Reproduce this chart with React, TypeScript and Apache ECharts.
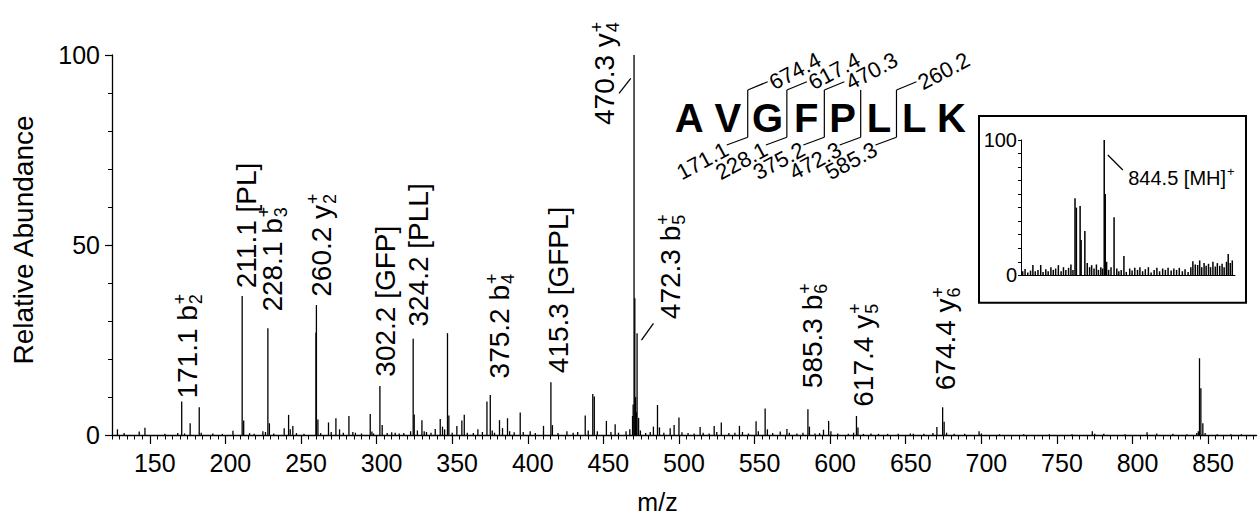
import React, { useEffect, useRef } from "react";
import * as echarts from "echarts";

const FONT = '"Liberation Sans", Arial, Helvetica, sans-serif';

// ---------- main MS/MS spectrum: [m/z, relative abundance] ----------
const peaks: [number, number][] = [
  [128.6, 1.5], [133.0, 0.5], [143.0, 0.9], [146.8, 1.9], [160.0, 0.3], [168.5, 0.5],
  [171.1, 8.8], [173.0, 0.4], [176.7, 3.1], [182.7, 7.3], [184.0, 0.6], [191.7, 0.4],
  [198.0, 0.3], [205.0, 1.1], [211.1, 36.6], [212.1, 3.8], [216.0, 0.5], [219.0, 0.3],
  [224.8, 1.0], [226.5, 0.8], [228.1, 28.1], [229.1, 3.1], [232.0, 0.4], [238.9, 1.8],
  [241.8, 5.3], [242.9, 1.5], [244.6, 2.4], [247.0, 0.5], [252.0, 0.3], [259.9, 27.0],
  [260.2, 34.2], [261.2, 4.1], [263.0, 0.5], [268.2, 3.3], [270.0, 0.8], [273.1, 4.4],
  [275.5, 1.5], [278.0, 0.6], [281.7, 5.0], [284.3, 0.8], [286.0, 0.6], [290.0, 0.4],
  [295.8, 5.5], [296.9, 0.9], [298.0, 0.4], [302.2, 12.9], [303.7, 2.6], [307.0, 0.5],
  [310.0, 0.7], [312.3, 0.6], [315.0, 0.4], [318.0, 0.5], [322.5, 1.0], [324.2, 25.3],
  [324.9, 5.4], [327.0, 1.2], [330.0, 3.9], [331.5, 1.0], [333.0, 0.8], [336.0, 0.6],
  [338.8, 1.6], [342.1, 4.2], [343.6, 2.2], [345.0, 1.5], [346.9, 26.8], [347.8, 5.1],
  [350.0, 0.6], [353.1, 2.4], [356.4, 3.8], [358.0, 5.3], [360.0, 0.6], [364.0, 0.5],
  [367.0, 1.5], [370.0, 0.8], [373.0, 8.8], [375.2, 10.5], [376.5, 1.2], [378.0, 0.6],
  [381.3, 3.9], [383.3, 1.8], [386.6, 4.4], [388.0, 1.0], [391.0, 0.7], [395.0, 5.9],
  [397.0, 0.8], [401.6, 1.0], [405.0, 0.5], [410.4, 2.4], [415.3, 13.9], [416.3, 2.6],
  [420.0, 0.5], [425.9, 1.0], [430.0, 0.6], [433.0, 0.8], [438.0, 5.1], [440.0, 1.2],
  [443.0, 10.8], [444.0, 10.1], [446.0, 1.0], [452.0, 3.7], [455.0, 0.8], [457.8, 2.8],
  [460.0, 0.6], [465.0, 1.0], [467.5, 1.5], [469.3, 5.0], [469.7, 8.0], [470.3, 100],
  [470.8, 36.0], [471.3, 10.0], [471.8, 6.0], [472.3, 26.8], [473.3, 4.5], [474.5, 1.2],
  [478.0, 0.5], [481.0, 0.8], [483.1, 2.2], [485.8, 7.9], [487.1, 2.0], [490.0, 0.6],
  [494.2, 1.8], [496.8, 2.6], [500.0, 4.6], [502.0, 0.7], [506.0, 0.5], [510.0, 0.4],
  [514.0, 2.1], [516.0, 0.6], [520.0, 0.4], [523.3, 2.4], [525.0, 0.8], [528.0, 3.3],
  [533.0, 0.5], [537.0, 0.6], [540.0, 2.4], [542.0, 0.8], [546.0, 0.4], [551.0, 3.6],
  [552.5, 1.0], [557.0, 7.0], [558.5, 1.5], [562.0, 0.5], [567.0, 0.9], [571.4, 1.6],
  [573.0, 0.6], [578.0, 0.4], [582.0, 0.6], [585.3, 6.8], [586.3, 2.2], [590.0, 0.4],
  [593.0, 0.5], [595.6, 1.4], [599.0, 3.7], [600.5, 1.0], [605.0, 0.4], [612.0, 0.3],
  [615.5, 0.6], [617.4, 5.0], [618.4, 2.0], [622.0, 0.3], [627.0, 0.4], [632.0, 0.3],
  [638.0, 0.3], [645.0, 0.3], [653.0, 0.4], [655.0, 0.3], [662.0, 0.3], [668.0, 0.5],
  [670.6, 2.1], [674.4, 7.3], [675.4, 3.5], [677.0, 0.6], [682.0, 0.3], [689.0, 0.3],
  [698.5, 1.0], [700.0, 0.4], [712.0, 0.2], [728.0, 0.2], [745.0, 0.2], [760.0, 0.2],
  [773.4, 1.0], [775.0, 0.3], [781.0, 0.3], [795.0, 0.2], [809.6, 0.7], [816.0, 0.4],
  [826.7, 0.3], [836.0, 0.2], [842.5, 0.5], [843.5, 1.0], [844.3, 20.2], [845.2, 12.3],
  [846.5, 3.1], [848.0, 0.5], [856.0, 0.2], [865.0, 0.2], [872.0, 0.2],
];

// ---------- peak annotations ----------
const labelMz = [171.1, 211.1, 228.1, 260.2, 302.2, 324.2, 375.2, 415.3, 470.3, 472.3, 585.3, 617.4, 674.4];
const labelText = [
  "171.1 b", "211.1 [PL]", "228.1 b", "260.2 y", "302.2 [GFP]", "324.2 [PLL]", "375.2 b",
  "415.3 [GFPL]", "470.3 y", "472.3 b", "585.3 b", "617.4 y", "674.4 y",
];
const labelSub = ["2", "", "3", "2", "", "", "4", "", "4", "5", "6", "5", "6"];
const labelSup = ["+", "", "+", "+", "", "", "+", "", "+", "+", "+", "+", "+"];

// ---------- axis ticks ----------
const xMajorTicks = [150, 200, 250, 300, 350, 400, 450, 500, 550, 600, 650, 700, 750, 800, 850];
const yMajorTicks = [0, 50, 100];

// ---------- inset (precursor scan) ----------
const insetPeaks: [number, number][] = [
  [820.5, 3], [821.2, 4.7], [822.0, 2], [822.8, 3.5], [823.5, 7.6], [824.2, 3], [825.0, 4],
  [825.8, 7.6], [826.5, 2.5], [827.3, 4.5], [828.0, 3], [828.8, 6], [829.5, 4], [830.2, 5],
  [831.0, 7.5], [831.8, 3], [832.5, 6], [833.2, 4], [834.0, 5.5], [834.7, 8], [835.3, 4],
  [835.9, 57], [836.3, 50], [837.4, 51.3], [837.7, 26], [838.8, 32.8], [839.5, 9], [840.2, 6],
  [840.8, 7.5], [841.5, 5], [842.2, 8], [842.8, 4], [843.5, 6], [844.0, 5], [844.5, 100],
  [844.8, 60], [845.2, 10], [845.8, 4], [846.5, 6], [847.4, 42.9], [848.2, 5], [848.8, 3],
  [849.5, 4], [850.3, 14.3], [851.0, 2.5], [852.0, 5], [852.7, 3.5], [853.5, 5.5], [854.3, 4],
  [855.0, 6], [855.8, 3], [856.6, 4.5], [857.5, 6], [858.3, 2], [859.2, 4], [860.0, 5.5],
  [860.8, 3], [861.7, 5], [862.5, 4], [863.3, 5.5], [864.2, 3.5], [865.0, 5], [865.8, 4],
  [866.6, 5.5], [867.5, 3], [868.3, 4.5], [869.2, 2.5], [870.0, 6], [870.6, 10.3], [871.3, 8],
  [872.0, 7.6], [872.6, 11], [873.2, 6], [873.9, 9], [874.5, 7], [875.2, 8.5], [875.8, 6],
  [876.5, 10], [877.2, 6.5], [877.8, 9], [878.5, 7], [879.2, 8.5], [879.8, 6], [880.5, 10],
  [881.0, 15.8], [881.6, 9], [882.2, 11],
];
const insetLabelMz = 844.5;
const insetLabelText = "844.5 [MH]";
const insetYLabels = [0, 100];

// ---------- peptide sequence ----------
const sequence = ["A", "V", "G", "F", "P", "L", "L", "K"];
const bIons = ["171.1", "228.1", "375.2", "472.3", "585.3"];
const yIons = ["674.4", "617.4", "470.3", "", "260.2"];

// ---------- layout (style only, in px) ----------
const labelOffset: [number, number][] = [
  [6, -3], [4.5, -7.7], [4.4, -16.6], [4.7, -8.3], [5.7, -9.3], [5.6, -12.3], [9.5, -16.7],
  [8, -9], [-29.3, 70], [33.7, -14], [5, -21], [7, -9.3], [3, -17],
];
const labelLeader: (number[] | null)[] = [
  null, null, null, null, null, null, null, null,
  [-15, 38.3, -3.3, 23.3], [4.4, 6.9, 16.4, -9.7], null, null, null,
];

let measureCtx: CanvasRenderingContext2D | null = null;
function textWidth(t: string, font: string): number {
  if (!measureCtx) measureCtx = document.createElement("canvas").getContext("2d");
  if (!measureCtx) return t.length * 14;
  measureCtx.font = font;
  return measureCtx.measureText(t).width;
}

function txt(text: string, x: number, y: number, size: number, align: string, weight = "normal") {
  return {
    type: "text",
    x,
    y,
    style: {
      text,
      fill: "#000",
      fontSize: size,
      fontFamily: FONT,
      fontWeight: weight,
      align,
      textAlign: align,
      verticalAlign: "middle",
      textVerticalAlign: "middle",
    },
  };
}

function stickRenderer(width: number) {
  return (params: any, api: any) => {
    const x = api.value(0);
    const h = api.value(1);
    const p0 = api.coord([x, 0]);
    const p1 = api.coord([x, h]);
    return {
      type: "line",
      shape: { x1: p0[0], y1: p0[1], x2: p1[0], y2: p1[1] },
      style: { stroke: "#000", lineWidth: width },
    };
  };
}

const LABEL_SIZE = 28;
const SUB_SIZE = 18;

function renderPeakLabel(params: any, api: any) {
  const i = api.value(2);
  const p = api.coord([api.value(0), api.value(1)]);
  const [dx, dy] = labelOffset[i];
  const w = textWidth(labelText[i], `${LABEL_SIZE}px ${FONT}`);
  const kids: any[] = [txt(labelText[i], 0, 0, LABEL_SIZE, "left")];
  if (labelSub[i]) kids.push(txt(labelSub[i], w + 1, 8.5, SUB_SIZE, "left"));
  if (labelSup[i]) kids.push(txt(labelSup[i], w + 1, -8, SUB_SIZE, "left"));
  const children: any[] = [
    { type: "group", x: p[0] + dx, y: p[1] + dy, rotation: Math.PI / 2, children: kids },
  ];
  const ld = labelLeader[i];
  if (ld) {
    children.push({
      type: "line",
      shape: { x1: p[0] + ld[0], y1: p[1] + ld[1], x2: p[0] + ld[2], y2: p[1] + ld[3] },
      style: { stroke: "#000", lineWidth: 1.3 },
    });
  }
  return { type: "group", children };
}

function renderInsetLabel(params: any, api: any) {
  const p = api.coord([api.value(0), api.value(1)]);
  const w = textWidth(insetLabelText, `20px ${FONT}`);
  return {
    type: "group",
    children: [
      {
        type: "line",
        shape: { x1: p[0] + 3.6, y1: p[1] + 15, x2: p[0] + 18.6, y2: p[1] + 30 },
        style: { stroke: "#000", lineWidth: 1.2 },
      },
      txt(insetLabelText, p[0] + 24, p[1] + 37.5, 20, "left"),
      txt("+", p[0] + 24 + w + 1, p[1] + 31, 13, "left"),
    ],
  };
}

function sequenceGraphics(): any[] {
  const els: any[] = [];
  const letterFont = `bold 40px ${FONT}`;
  const widths = sequence.map((s) => textWidth(s, letterFont));
  const gap = 10.8;
  const centers: number[] = [];
  let c = 689.3;
  for (let i = 0; i < sequence.length; i++) {
    if (i > 0) c += (widths[i - 1] + widths[i]) / 2 + gap;
    centers.push(c);
    els.push(txt(sequence[i], c, 117.8, 40, "center", "bold"));
  }
  const rot = (28 * Math.PI) / 180;
  for (let k = 0; k < bIons.length; k++) {
    const x = (centers[k + 1] + centers[k + 2]) / 2;
    els.push({ type: "line", shape: { x1: x, y1: 90, x2: x, y2: 137.3 }, style: { stroke: "#000", lineWidth: 1.2 } });
    els.push({ type: "line", shape: { x1: x, y1: 137.3, x2: x - 21, y2: 145 }, style: { stroke: "#000", lineWidth: 1.2 } });
    els.push({ ...txt(bIons[k], x - 21, 148, 22, "right"), rotation: rot, x: x - 21, y: 148 });
    if (yIons[k]) {
      els.push({ type: "line", shape: { x1: x, y1: 90, x2: x + 20, y2: 81.7 }, style: { stroke: "#000", lineWidth: 1.2 } });
      els.push({ ...txt(yIons[k], x + 23, 84, 22, "left"), rotation: rot, x: x + 23, y: 84 });
    }
  }
  return els;
}

export default function App() {
  const ref = useRef<HTMLDivElement>(null);
  useEffect(() => {
    if (!ref.current) return;
    const chart = echarts.init(ref.current, undefined, { renderer: "svg" });
    const xMinor: number[] = [];
    for (let v = 125; v <= 880; v += 5) xMinor.push(v);
    const yMinor: number[] = [];
    for (let v = 0; v <= 100; v += 10) yMinor.push(v);

    const labelData = labelMz.map((m, i) => {
      const pk = peaks.find((p) => p[0] === m);
      return [m, pk ? pk[1] : 0, i];
    });

    const option: any = {
      animation: false,
      backgroundColor: "#fff",
      grid: [
        { left: 112, top: 55, width: 1144.5, height: 380 },
        { left: 1021, top: 140, width: 214, height: 135.3 },
      ],
      xAxis: [
        {
          type: "value", gridIndex: 0, position: "bottom", min: 125, max: 882,
          axisLine: { show: true, onZero: false, lineStyle: { color: "#000", width: 1.3 } },
          axisTick: { show: true, customValues: xMajorTicks, length: 9, lineStyle: { color: "#000", width: 1.2 } },
          axisLabel: {
            show: true, customValues: xMajorTicks, color: "#000", fontSize: 25, fontFamily: FONT,
            margin: 15, padding: [0, 0, 0, 10],
          },
          splitLine: { show: false },
        },
        {
          type: "value", gridIndex: 0, position: "bottom", min: 125, max: 882,
          axisLine: { show: false },
          axisTick: { show: true, customValues: xMinor, length: 4.5, lineStyle: { color: "#000", width: 1 } },
          axisLabel: { show: false },
          splitLine: { show: false },
        },
        {
          type: "value", gridIndex: 1, position: "bottom", min: 820, max: 883,
          axisLine: { show: true, onZero: false, lineStyle: { color: "#000", width: 1 } },
          axisTick: { show: false },
          axisLabel: { show: false },
          splitLine: { show: false },
        },
      ],
      yAxis: [
        {
          type: "value", gridIndex: 0, position: "left", min: 0, max: 100,
          axisLine: { show: true, onZero: false, lineStyle: { color: "#000", width: 1.3 } },
          axisTick: { show: true, customValues: yMajorTicks, length: 7, lineStyle: { color: "#000", width: 1.2 } },
          axisLabel: {
            show: true, customValues: yMajorTicks, color: "#000", fontSize: 25, fontFamily: FONT,
            margin: 12, padding: [5, 0, 0, 0],
          },
          splitLine: { show: false },
        },
        {
          type: "value", gridIndex: 0, position: "left", min: 0, max: 100,
          axisLine: { show: false },
          axisTick: { show: true, customValues: yMinor, length: 4, lineStyle: { color: "#000", width: 1 } },
          axisLabel: { show: false },
          splitLine: { show: false },
        },
        {
          type: "value", gridIndex: 1, position: "left", min: 0, max: 100,
          axisLine: { show: true, onZero: false, lineStyle: { color: "#000", width: 1 } },
          axisTick: { show: true, customValues: yMinor, length: 3, lineStyle: { color: "#000", width: 1 } },
          axisLabel: {
            show: true, customValues: insetYLabels, color: "#000", fontSize: 20, fontFamily: FONT,
            margin: 4, padding: [4, 0, 0, 0],
          },
          splitLine: { show: false },
        },
      ],
      series: [
        {
          type: "custom", xAxisIndex: 0, yAxisIndex: 0, silent: true, clip: false,
          renderItem: stickRenderer(1.3),
          data: peaks.map((p) => [p[0], p[1]]),
        },
        {
          type: "custom", xAxisIndex: 0, yAxisIndex: 0, silent: true, clip: false,
          dimensions: ["x", "y", "i"], encode: { x: 0, y: 1 },
          renderItem: renderPeakLabel,
          data: labelData,
        },
        {
          type: "custom", xAxisIndex: 2, yAxisIndex: 2, silent: true, clip: false,
          renderItem: stickRenderer(1.5),
          data: insetPeaks.map((p) => [p[0], p[1]]),
        },
        {
          type: "custom", xAxisIndex: 2, yAxisIndex: 2, silent: true, clip: false,
          renderItem: renderInsetLabel,
          data: [[insetLabelMz, insetPeaks.find((p) => p[0] === insetLabelMz)![1]]],
        },
      ],
      graphic: [
        {
          type: "rect", shape: { x: 979, y: 116, width: 267, height: 186.7 },
          style: { fill: "none", stroke: "#000", lineWidth: 2 },
        },
        { ...txt("Relative Abundance", 23.6, 240, 28, "center"), rotation: Math.PI / 2 },
        txt("m/z", 657.5, 502, 25, "center"),
        ...sequenceGraphics(),
      ],
    };
    chart.setOption(option);
    return () => chart.dispose();
  }, []);
  return (
    <div
      ref={ref}
      style={{ position: "fixed", left: 0, top: 0, width: 1258, height: 517, background: "#fff" }}
    />
  );
}
